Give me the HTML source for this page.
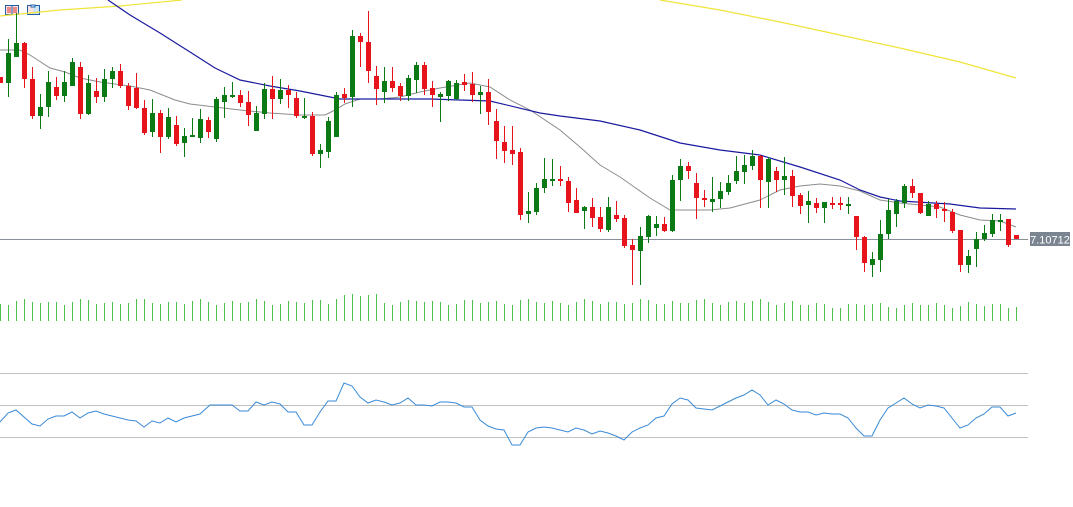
<!DOCTYPE html>
<html><head><meta charset="utf-8">
<style>
html,body{margin:0;padding:0;background:#fff;}
svg{display:block;}
text{font-family:"Liberation Sans",sans-serif;}
</style></head>
<body>
<svg id="c" width="1073" height="507" xmlns="http://www.w3.org/2000/svg" shape-rendering="crispEdges"></svg>
<script>
const C=[
[77,83,77,83],[83,53,39,97],[57,43,13,57],[43,79,42,88],[79,116,67,119],[116,107,94,129],[107,82,71,117],[87,96,77,100],[96,82,71,102],[86,62,58,86],
[67,114,62,119],[114,83,75,115],[91,97,78,103],[97,79,69,102],[79,71,67,88],[71,86,64,88],[86,106,83,110],[88,108,73,109],[108,133,100,135],[132,113,99,137],
[113,137,110,153],[137,117,108,139],[125,144,116,146],[143,136,128,157],[137,135,118,137],[138,119,109,143],[120,132,117,138],[139,99,97,142],[102,95,87,118],[97,95,82,98],
[95,103,90,107],[102,115,91,126],[131,113,106,131],[114,89,83,119],[89,99,76,119],[99,90,79,104],[90,95,85,108],[98,116,92,118],[118,116,98,119],[116,154,112,156],
[154,150,144,168],[152,121,117,158],[137,95,92,137],[94,98,88,103],[97,36,30,107],[36,42,33,67],[42,71,11,83],[76,89,66,105],[92,81,67,103],[81,88,67,92],
[86,96,83,101],[96,78,75,101],[80,65,62,93],[65,89,62,95],[88,95,81,107],[97,94,92,122],[96,81,80,101],[99,83,80,100],[82,85,74,91],[84,95,72,102],
[95,92,86,114],[92,112,79,125],[121,141,109,159],[142,151,126,163],[150,154,126,165],[152,215,148,220],[214,211,192,223],[212,188,183,215],[188,179,158,193],[180,179,159,186],
[179,181,166,186],[181,203,177,212],[200,213,188,213],[211,207,206,229],[207,218,198,227],[217,229,207,232],[230,207,197,232],[215,219,201,222],[218,246,215,248],[245,250,239,285],
[251,236,227,285],[237,216,215,243],[228,224,216,236],[224,231,217,232],[231,180,175,232],[180,166,159,201],[166,171,162,179],[183,198,173,219],[198,199,190,207],[202,199,177,212],
[199,191,182,208],[192,183,175,195],[181,171,156,184],[172,165,155,184],[166,156,150,170],[156,180,155,208],[182,159,157,208],[171,180,167,192],[180,176,157,195],[176,196,170,207],
[195,206,193,214],[205,201,191,223],[203,208,198,213],[208,202,202,223],[203,205,197,209],[203,205,197,210],[205,204,197,214],[216,237,216,250],[237,263,236,272],[265,259,252,277],
[260,234,220,272],[234,210,199,239],[214,201,199,227],[203,186,184,208],[186,193,179,198],[193,213,193,214],[216,204,201,216],[204,209,201,218],[209,211,202,222],[212,231,209,233],
[230,265,230,272],[265,256,250,273],[249,239,232,267],[239,233,225,241],[234,220,214,237],[221,220,214,231],[219,245,219,247],[235,239,235,239]];
let s='';
s+='<rect x="5.5" y="5.5" width="13" height="9" fill="#fde0e0" stroke="#1f5fa8"/><line x1="12" y1="6" x2="12" y2="14" stroke="#1f5fa8"/><path d="M7 8h4M7 10h4M7 12h4M13 8h4M13 10h4M13 12h4" stroke="#d33"/>';
s+='<rect x="27.5" y="5.5" width="12" height="9" fill="#fde0e0" stroke="#1f5fa8"/><rect x="33" y="6" width="6" height="8" fill="#cfe3f7"/><rect x="31" y="5" width="4" height="2" fill="#fff" stroke="#1f5fa8" stroke-width="0.6"/>';
s+='<line x1="0" y1="239.5" x2="1028" y2="239.5" stroke="#8a9099"/>';
s+='<rect x="1030" y="232" width="40" height="14" fill="#7b8592"/><text x="1050" y="243.5" font-size="11" fill="#fff" text-anchor="middle">7.10712</text>';
function pl(pts,col,w){return '<polyline shape-rendering="auto" fill="none" stroke="'+col+'" stroke-width="'+w+'" points="'+pts.map(p=>p.join(',')).join(' ')+'"/>';}
s+=pl([[0,16],[60,10],[120,6],[182,0]],'#f0e43a',1.2);
s+=pl([[660,0],[720,10],[780,22],[840,35],[900,48],[960,62],[1016,78]],'#f0e43a',1.2);
s+=pl([[0,50],[20,50],[30,55],[50,68],[65,72],[80,78],[100,82],[130,86],[150,90],[175,100],[190,104],[215,107],[240,110],[270,113],[300,115],[325,115],[335,110],[345,104],[360,99],[380,99],[400,97],[420,92],[440,88],[470,83],[490,87],[510,100],[530,110],[560,130],[580,147],[600,165],[620,177],[650,198],[670,210],[690,210],[710,210],[730,208],[760,200],[780,190],[800,186],[820,184],[840,186],[860,191],[880,200],[900,203],[920,205],[940,207],[960,215],[980,220],[1000,221],[1016,227]],'#8c8c8c',1);
s+=pl([[108,0],[130,15],[160,33],[190,52],[215,68],[240,80],[270,86],[300,91],[340,99],[380,99],[430,99],[490,101],[540,113],[560,116],[600,121],[640,130],[680,143],[720,150],[760,155],[800,167],[840,180],[860,190],[880,197],[900,201],[950,204],[980,208],[1016,209]],'#1a1aa0',1.2);
C.forEach((c,i)=>{const x=8*i;const[o,cl,h,l]=c;const red=cl>o;const col=red?'#e8141b':'#0c7a14';
s+='<rect x="'+x+'" y="'+h+'" width="1" height="'+Math.max(1,l-h)+'" fill="'+col+'"/>';
const t=Math.min(o,cl),b=Math.max(o,cl);s+='<rect x="'+(x-2)+'" y="'+t+'" width="5" height="'+Math.max(2,b-t)+'" fill="'+col+'"/>';
let v=302+Math.round(2*Math.sin(i*1.7)+1.5*Math.cos(i*0.9));if(i>=42&&i<=47)v-=6;if(i>=100)v+=3;
s+='<rect x="'+x+'" y="'+v+'" width="1" height="'+(321-v)+'" fill="#4cc04c"/>';});
[373.5,405.5,437.5].forEach(y=>s+='<line x1="0" y1="'+y+'" x2="1028" y2="'+y+'" stroke="#c0c0c0"/>');
s+=pl([[0,422],[8,413],[16,410],[32,424],[40,426],[48,419],[56,416],[64,416],[72,412],[80,418],[88,413],[96,411],[104,414],[112,416],[120,418],[128,420],[136,421],[144,427],[152,421],[160,423],[168,418],[176,422],[184,418],[192,416],[200,414],[210,405],[220,405],[232,405],[240,411],[248,411],[256,402],[264,405],[272,402],[280,404],[288,412],[296,412],[304,425],[312,425],[320,412],[328,401],[336,401],[344,383],[352,386],[360,397],[368,403],[376,400],[384,402],[392,405],[400,403],[408,398],[416,405],[424,405],[432,406],[440,402],[448,402],[456,403],[464,407],[472,407],[480,420],[488,426],[496,429],[504,430],[512,445],[520,445],[528,432],[536,428],[544,427],[552,428],[560,430],[568,432],[576,428],[584,430],[592,434],[600,431],[608,433],[616,436],[624,440],[632,432],[640,428],[648,425],[656,418],[664,416],[672,404],[680,398],[688,400],[696,408],[704,409],[712,410],[720,406],[728,402],[736,398],[744,395],[752,390],[760,395],[768,405],[776,400],[784,404],[792,410],[800,412],[808,412],[816,415],[824,413],[832,414],[840,414],[848,418],[856,428],[864,436],[872,436],[880,420],[888,408],[896,403],[904,398],[912,404],[920,408],[928,405],[936,406],[944,408],[952,418],[960,428],[968,425],[976,418],[984,414],[992,407],[1000,407],[1008,416],[1016,413]],'#3a8ad6',1);
document.getElementById('c').innerHTML=s;
</script>
</body></html>
